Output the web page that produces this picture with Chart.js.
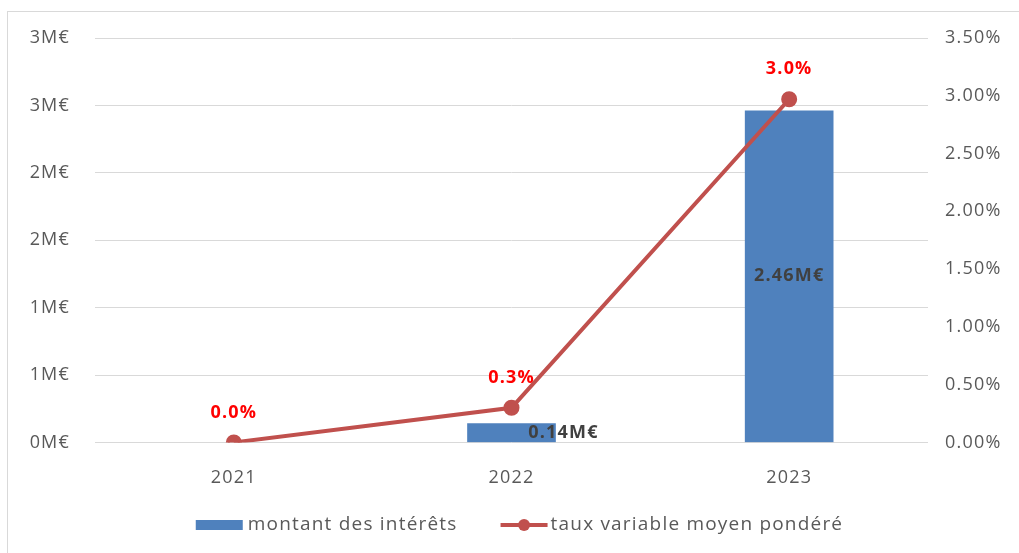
<!DOCTYPE html>
<html>
<head>
<meta charset="utf-8">
<script src="https://cdn.jsdelivr.net/npm/chart.js"></script>
<style>
  body { margin: 0; background: #fff; }
  .frame { position: absolute; left: 7px; top: 11px; width: 1030px; height: 560px; border: 1px solid #d9d9d9; }
  .box { position: absolute; left: 0; top: 0; width: 1019px; height: 553px; }
</style>
</head>
<body>
<div class="frame"></div>
<div class="box"><canvas id="chart"></canvas></div>
<script>
const years = ['2021', '2022', '2023'];
const interets = [null, 0.14, 2.46];     // M€ (no bar in 2021)
const tauxMoyen = [0, 0.3, 2.97];        // %
const leftTicks = [0, 0.5, 1, 1.5, 2, 2.5, 3];
const rightTicks = [0, 0.5, 1, 1.5, 2, 2.5, 3, 3.5];

const BLUE = '#4f81bd';
const RED = '#c0504d';
const GREY = '#595959';
const FONT = "'Open Sans', sans-serif";
const SPACING = '1.2px';

// a bit of letter spacing so the text looks like the excel export
const spacing = {
  id: 'spacing',
  beforeLayout(chart) { chart.ctx.letterSpacing = SPACING; },
  beforeDraw(chart) { chart.ctx.letterSpacing = SPACING; }
};

const valueLabels = {
  id: 'valueLabels',
  afterDatasetsDraw(chart) {
    const ctx = chart.ctx;
    ctx.save();
    ctx.textAlign = 'center';
    ctx.textBaseline = 'middle';
    // bar labels
    ctx.font = "bold 18px " + FONT;
    ctx.fillStyle = '#404040';
    chart.getDatasetMeta(1).data.forEach((bar, i) => {
      const v = interets[i];
      if (!v) return;
      const dx = i === 1 ? 52 : 0;
      ctx.fillText(v.toFixed(2) + 'M€', bar.x + dx, (bar.y + bar.base) / 2);
    });
    // line labels
    ctx.fillStyle = '#ff0000';
    chart.getDatasetMeta(0).data.forEach((pt, i) => {
      ctx.fillText(tauxMoyen[i].toFixed(1) + '%', pt.x, pt.y - 30);
    });
    ctx.restore();
  }
};

// legend drawn by hand: wide bar swatch, line swatch with a dot, wide gap
const bottomLegend = {
  id: 'bottomLegend',
  afterDraw(chart) {
    const ctx = chart.ctx;
    ctx.save();
    ctx.font = "19px " + FONT;
    ctx.textBaseline = 'middle';
    ctx.textAlign = 'left';
    const y = 525;
    const barDs = chart.data.datasets[1];
    const lineDs = chart.data.datasets[0];
    const w1 = ctx.measureText(barDs.label).width;
    const w2 = ctx.measureText(lineDs.label).width;
    const total = 47 + 5 + w1 + 43 + 47 + 3 + w2;
    let x = chart.width / 2 - total / 2 + 10;
    ctx.fillStyle = BLUE;
    ctx.fillRect(x, y - 5, 47, 10);
    x += 52;
    ctx.fillStyle = GREY;
    ctx.fillText(barDs.label, x, y);
    x += w1 + 43;
    ctx.strokeStyle = RED;
    ctx.lineWidth = 4;
    ctx.beginPath(); ctx.moveTo(x, y); ctx.lineTo(x + 47, y); ctx.stroke();
    ctx.fillStyle = RED;
    ctx.beginPath(); ctx.arc(x + 23.5, y, 6, 0, Math.PI * 2); ctx.fill();
    x += 50;
    ctx.fillStyle = GREY;
    ctx.fillText(lineDs.label, x, y);
    ctx.restore();
  }
};

new Chart(document.getElementById('chart'), {
  data: {
    labels: years,
    datasets: [
      {
        type: 'line',
        label: 'taux variable moyen pondéré',
        data: tauxMoyen,
        yAxisID: 'y1',
        borderColor: RED,
        backgroundColor: RED,
        borderWidth: 4,
        pointRadius: 6,
        pointHoverRadius: 6,
        tension: 0,
        order: 0
      },
      {
        type: 'bar',
        label: 'montant des intérêts',
        data: interets,
        yAxisID: 'y',
        backgroundColor: BLUE,
        barThickness: 88,
        order: 1
      }
    ]
  },
  plugins: [spacing, valueLabels, bottomLegend],
  options: {
    responsive: true,
    maintainAspectRatio: false,
    animation: false,
    layout: { padding: { top: 38, bottom: 47, left: 0, right: 0 } },
    plugins: {
      tooltip: { enabled: false },
      legend: { display: false }
    },
    scales: {
      x: {
        grid: { display: false },
        border: { display: false },
        ticks: { color: GREY, font: { family: FONT, size: 18 }, padding: 17 }
      },
      y: {
        position: 'left',
        min: 0, max: 3,
        afterBuildTicks(axis) { axis.ticks = leftTicks.map(v => ({ value: v })); },
        afterFit(axis) { axis.width = 95; },
        grid: { color: '#d9d9d9', drawTicks: false },
        border: { display: false },
        ticks: {
          color: GREY, font: { family: FONT, size: 18 }, padding: 25,
          callback: v => Math.round(v) + 'M€'
        }
      },
      y1: {
        position: 'right',
        min: 0, max: 3.5,
        afterBuildTicks(axis) { axis.ticks = rightTicks.map(v => ({ value: v })); },
        afterFit(axis) { axis.width = 91; },
        grid: { display: false, drawTicks: false },
        border: { display: false },
        ticks: {
          color: GREY, font: { family: FONT, size: 18 }, padding: 17,
          callback: v => v.toFixed(2) + '%'
        }
      }
    }
  }
});
</script>
</body>
</html>
